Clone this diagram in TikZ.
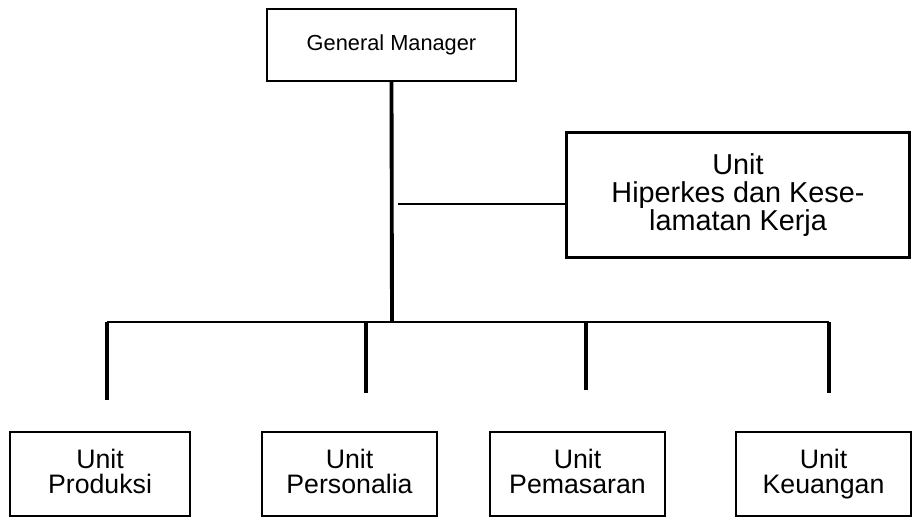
\documentclass[tikz,border=0pt]{standalone}
\usepackage{fontspec}
\setmainfont{Liberation Sans}
\usetikzlibrary{positioning}
\tikzstyle{head}=[rectangle, draw=black, line width=0.8pt, minimum width=4.98cm, minimum height=1.44cm, font=\fontsize{12.4}{14}\selectfont]
\tikzstyle{staff}=[rectangle, draw=black, line width=1.7pt, minimum width=6.88cm, minimum height=2.52cm, align=center, font=\fontsize{16.4}{16}\selectfont]
\tikzstyle{unit}=[rectangle, draw=black, line width=0.6pt, minimum width=3.5cm, minimum height=1.68cm, align=center, font=\fontsize{15.2}{14.6}\selectfont, execute at end node=\vphantom{g}]
\tikzstyle{link}=[line width=1.6pt]

\begin{document}
\begin{tikzpicture}[x=0.02cm, y=-0.02cm]
          \useasboundingbox (0,0) rectangle (921,520);
          \node[head] (gm) at (391.5,45) {General Manager};
          \node[staff] (k3) at (738,195) {Unit\\Hiperkes dan Kese-\\lamatan Kerja};

          \node[unit, minimum width=3.6cm] (u1) at (100,474) {Unit\\Produksi};
          \node[unit] (u2) at (349.5,474) {Unit\\Personalia};
          \node[unit] (u3) at (577.5,474) {Unit\\Pemasaran};
          \node[unit] (u4) at (823.5,474) {Unit\\Keuangan};

          \coordinate (bar) at (392,322);
          \coordinate (s1) at (398,204);
          \coordinate (d1) at (107,400);
          \coordinate (d2) at (366,393);
          \coordinate (d3) at (586,390);
          \coordinate (d4) at (829,393);

          \draw[link, line width=2.2pt] (gm.south) -- (bar);
          \draw[link] (s1) -- (s1 -| k3.west);
          \draw[link] (d1 |- bar) -- (d4 |- bar);
          \foreach \d in {d1, d2, d3, d4}
                \draw[link, line width=2pt] (\d |- bar) -- (\d);
        \end{tikzpicture}
\end{document}
